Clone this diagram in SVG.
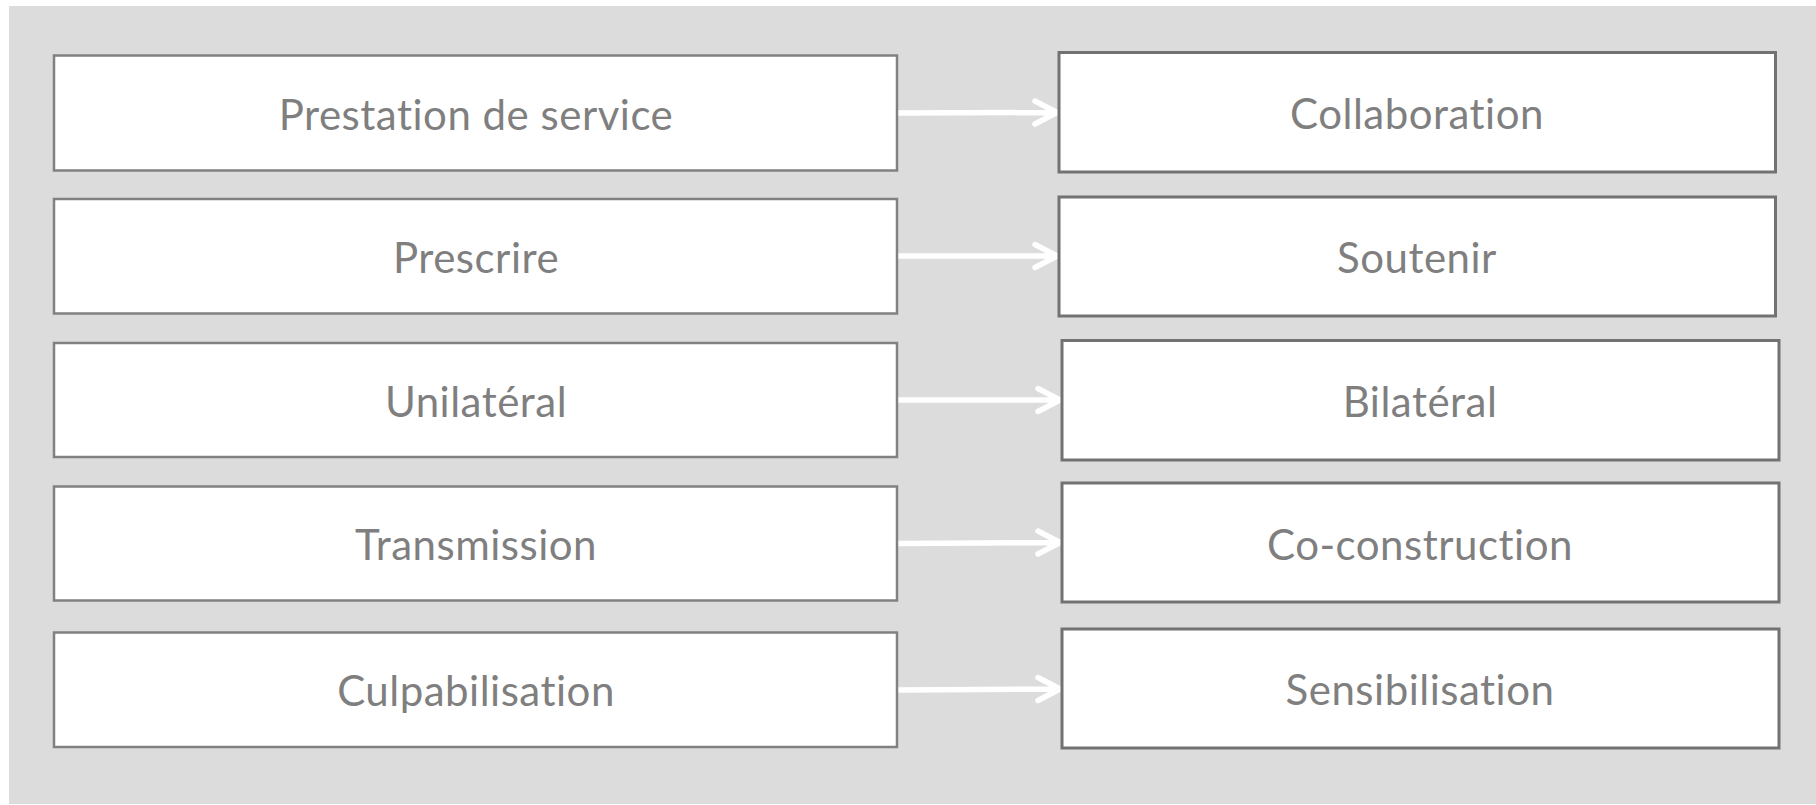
<svg xmlns="http://www.w3.org/2000/svg" width="1816" height="805" viewBox="0 0 1816 805">
<style>
.bg{fill:#dcdcdc}
.l{fill:#fff;stroke:#818181;stroke-width:2.5}
.r{fill:#fff;stroke:#727272;stroke-width:3}
.t{font-family:Lato,"Open Sans",sans-serif;font-size:42px;letter-spacing:0.5px;fill:#7f7f7f;text-anchor:middle}
.c{stroke:#fff;stroke-width:5.5;fill:none;stroke-linecap:round;stroke-linejoin:round}
</style>
<rect x="0" y="0" width="1816" height="805" fill="#fff"/>
<rect class="bg" x="9" y="6" width="1807" height="798"/>
<g id="connectors">
<path class="c" d="M898 113 L1057 112.5 M1035 101 L1057 112.5 L1035 124"/>
<path class="c" d="M898 256 L1057 256 M1035 244.5 L1057 256 L1035 267.5"/>
<path class="c" d="M898 400 L1060 400 M1038 388.5 L1060 400 L1038 411.5"/>
<path class="c" d="M898 543.5 L1060 542.5 M1038 531 L1060 542.5 L1038 554"/>
<path class="c" d="M898 690 L1060 689 M1038 677.5 L1060 689 L1038 700.5"/>
</g>
<g id="n1"><rect class="l" x="54" y="55.5" width="843" height="115"/><text class="t" x="476" y="130">Prestation de service</text></g>
<g id="n2"><rect class="l" x="54" y="199" width="843" height="114.5"/><text class="t" x="476" y="273">Prescrire</text></g>
<g id="n3"><rect class="l" x="54" y="343" width="843" height="114"/><text class="t" x="476" y="417">Unilatéral</text></g>
<g id="n4"><rect class="l" x="54" y="486.5" width="843" height="114"/><text class="t" x="476" y="560">Transmission</text></g>
<g id="n5"><rect class="l" x="54" y="632.5" width="843" height="114.5"/><text class="t" x="476" y="706">Culpabilisation</text></g>
<g id="m1"><rect class="r" x="1059" y="52.5" width="716.5" height="119.5"/><text class="t" x="1417" y="129">Collaboration</text></g>
<g id="m2"><rect class="r" x="1059" y="197" width="716.5" height="119"/><text class="t" x="1417" y="273">Soutenir</text></g>
<g id="m3"><rect class="r" x="1062" y="340.5" width="717" height="119.5"/><text class="t" x="1420" y="417">Bilatéral</text></g>
<g id="m4"><rect class="r" x="1062" y="483" width="717" height="119"/><text class="t" x="1420" y="560">Co-construction</text></g>
<g id="m5"><rect class="r" x="1062" y="629" width="717" height="119"/><text class="t" x="1420" y="705">Sensibilisation</text></g>
</svg>
